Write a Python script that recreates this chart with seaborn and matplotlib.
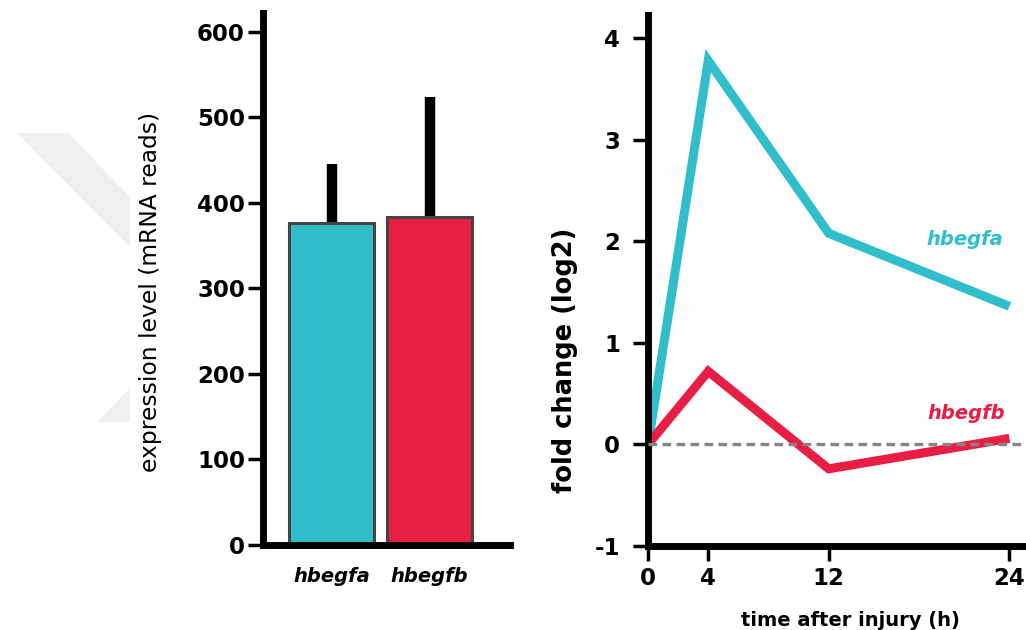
import matplotlib
matplotlib.use("Agg")
import matplotlib.pyplot as plt
import seaborn as sns
import pandas as pd
import numpy as np
from matplotlib.patches import Polygon

# ---- data ----
genes = ["hbegfa", "hbegfb"]
expr_mean = [377, 384]
expr_sd = [69, 140]

time_h = [0, 4, 12, 24]
fc_hbegfa = [0.0, 3.78, 2.08, 1.36]
fc_hbegfb = [0.0, 0.72, -0.24, 0.06]

xticks_right = [0, 4, 12, 24]
yticks_left = [0, 100, 200, 300, 400, 500, 600]
yticks_right = [-1, 0, 1, 2, 3, 4]

TEAL = "#30bfca"
RED = "#e91e45"

sns.set_theme(style="ticks")
plt.rcParams["font.family"] = ["DejaVu Sans"]
plt.rcParams.update({"text.color": "black", "axes.labelcolor": "black",
                     "xtick.color": "black", "ytick.color": "black"})

W, H = 1026, 630
fig = plt.figure(figsize=(W / 100, H / 100), dpi=100)

def fx(px):
    return px / W

def fy(py):
    return 1 - py / H

# faint watermark chevron (background decoration)
for pts in [[(17, 133), (68, 133), (130, 197), (130, 247)],
            [(97, 422), (130, 388), (130, 422)]]:
    fig.patches.append(Polygon([(fx(a), fy(b)) for a, b in pts], closed=True,
                               transform=fig.transFigure, facecolor="#efefef",
                               edgecolor="none", zorder=0))

# ---- left: bar chart ----
ax1 = fig.add_axes([fx(263), fy(545), fx(510) - fx(263), fy(13) - fy(545)])
ax1.patch.set_alpha(0)
df_bar = pd.DataFrame({"gene": genes, "reads": expr_mean})
sns.barplot(data=df_bar, x="gene", y="reads", hue="gene", palette=[TEAL, RED],
            saturation=1, width=0.86, edgecolor="#444444", linewidth=2.2,
            errorbar=None, legend=False, ax=ax1, zorder=2)
ax1.errorbar(x=np.arange(len(genes)), y=expr_mean,
             yerr=[np.zeros(len(genes)), expr_sd], fmt="none",
             ecolor="black", elinewidth=7.5, capsize=0, zorder=1)
ax1.set_xlim(-0.70, 1.82)
ax1.set_ylim(0, 622)
ax1.set_yticks(yticks_left)
ax1.set_yticklabels([str(v) for v in yticks_left], fontsize=16.5, fontweight="bold")
ax1.tick_params(axis="y", length=11, width=2.5, pad=2, color="black")
ax1.tick_params(axis="x", length=0, pad=16)
for lab in ax1.get_xticklabels():
    lab.set_fontstyle("italic")
    lab.set_fontweight("bold")
    lab.set_fontsize(14)
ax1.set_xlabel("")
ax1.set_ylabel("expression level (mRNA reads)", fontsize=16.8, va="center")
ax1.yaxis.set_label_coords((151 - 263) / 247, (545 - 292) / 532)
for s in ["top", "right"]:
    ax1.spines[s].set_visible(False)
for s in ["left", "bottom"]:
    ax1.spines[s].set_linewidth(5)
    ax1.spines[s].set_color("black")

# ---- right: line chart ----
ax2 = fig.add_axes([fx(648), fy(546), fx(1026) - fx(648), fy(15) - fy(546)])
ax2.patch.set_alpha(0)
df_line = pd.DataFrame({
    "time": time_h * 2,
    "fc": fc_hbegfa + fc_hbegfb,
    "gene": [genes[0]] * len(time_h) + [genes[1]] * len(time_h),
})
sns.lineplot(data=df_line, x="time", y="fc", hue="gene", palette=[TEAL, RED],
             linewidth=6.5, sort=False, legend=False, ax=ax2, zorder=2,
             solid_joinstyle="miter", solid_capstyle="butt")
ax2.axhline(0, color="#858585", linewidth=2.4, dashes=(2.6, 1.6), zorder=3)
ax2.set_xlim(0, 25.1)
ax2.set_ylim(-1, 4.23)
ax2.set_xticks(xticks_right)
ax2.set_xticklabels([str(v) for v in xticks_right], fontsize=16.5, fontweight="bold")
ax2.set_yticks(yticks_right)
ax2.set_yticklabels([str(v) for v in yticks_right], fontsize=16.5, fontweight="bold")
ax2.tick_params(axis="y", length=11, width=2.5, pad=9, color="black")
ax2.tick_params(axis="x", length=11, width=2.5, pad=4, color="black")
ax2.set_ylabel("fold change (log2)", fontsize=18.5, fontweight="bold", va="center")
ax2.yaxis.set_label_coords((565 - 648) / 378, (546 - 360) / 531)
ax2.set_xlabel("time after injury (h)", fontsize=14, fontweight="bold", va="center")
ax2.xaxis.set_label_coords((850 - 648) / 378, (546 - 620) / 531)
for s in ["top", "right"]:
    ax2.spines[s].set_visible(False)
for s in ["left", "bottom"]:
    ax2.spines[s].set_linewidth(5)
    ax2.spines[s].set_color("black")

ax2.text(21.06, 2.02, genes[0], color=TEAL, fontsize=14, fontweight="bold",
         fontstyle="italic", ha="center", va="center")
ax2.text(21.1, 0.305, genes[1], color=RED, fontsize=14, fontweight="bold",
         fontstyle="italic", ha="center", va="center")

fig.savefig("out.png", dpi=100)
